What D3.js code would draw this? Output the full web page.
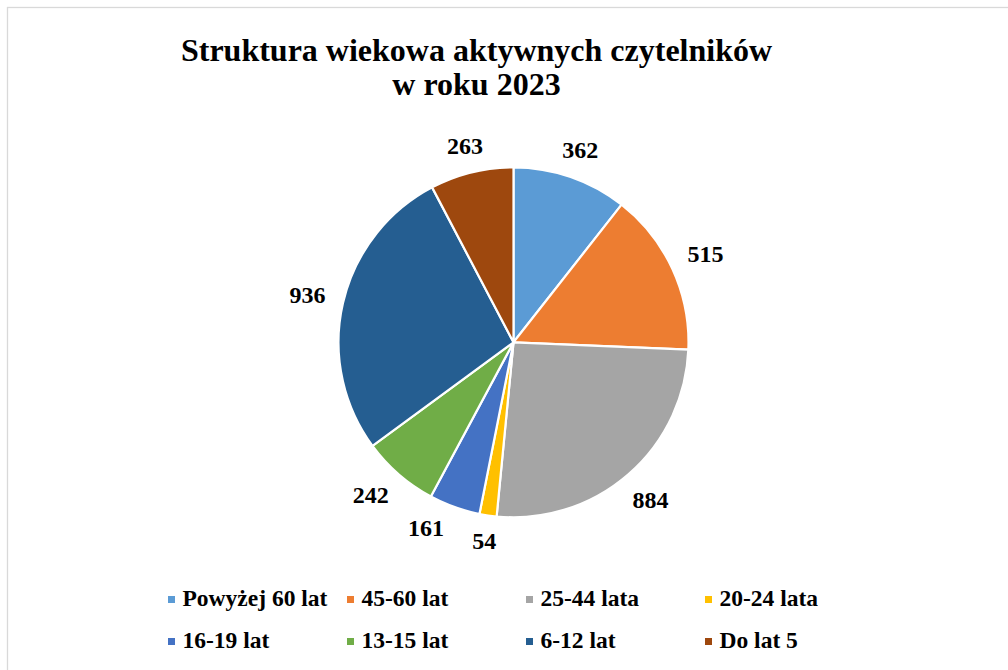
<!DOCTYPE html>
<meta charset="utf-8">
<style>

body {
  margin: 0;
  background: #fff;
}

svg {
  font-family: "Liberation Serif", "Times New Roman", serif;
  font-weight: bold;
  display: block;
}

</style>
<body>
<script src="https://cdn.jsdelivr.net/npm/d3@7"></script>
<script>

var categories = ["Powyżej 60 lat", "45-60 lat", "25-44 lata", "20-24 lata", "16-19 lat", "13-15 lat", "6-12 lat", "Do lat 5"],
    values = [362, 515, 884, 54, 161, 242, 936, 263],
    colors = ["#5b9bd5", "#ed7d31", "#a5a5a5", "#ffc000", "#4472c4", "#70ad47", "#255e91", "#9e480e"],
    titleLines = ["Struktura wiekowa aktywnych czytelników", "w roku 2023"];

</script>
<script>

var width = 1008,
    height = 670,
    cx = 513.5,
    cy = 342.3,
    radius = 175;

var svg = d3.select("body").append("svg")
    .attr("width", width)
    .attr("height", height);

// chart area frame (right and bottom edges fall outside the window)
svg.append("rect")
    .attr("x", 7.5)
    .attr("y", 7.5)
    .attr("width", 1100)
    .attr("height", 700)
    .attr("fill", "#fff")
    .attr("stroke", "#d9d9d9")
    .attr("stroke-width", 1.3);

svg.append("text")
    .attr("x", 476.5)
    .attr("y", 61)
    .attr("text-anchor", "middle")
    .attr("font-size", 32)
  .selectAll("tspan")
  .data(titleLines)
  .enter().append("tspan")
    .attr("x", 476.5)
    .attr("dy", function(d, i) { return i ? 34 : 0; })
    .text(function(d) { return d; });

var color = d3.scaleOrdinal(categories, colors);

var pie = d3.pie().sort(null).value(function(d) { return d.value; });

var arc = d3.arc().innerRadius(0).outerRadius(radius);

var data = pie(categories.map(function(c, i) { return {name: c, value: values[i]}; }));

var g = svg.append("g")
    .attr("transform", "translate(" + cx + "," + cy + ")");

g.selectAll("path")
  .data(data)
  .enter().append("path")
    .attr("fill", function(d) { return color(d.data.name); })
    .attr("stroke", "#fff")
    .attr("stroke-width", 2.2)
    .attr("stroke-linejoin", "round")
    .attr("d", arc);

// outside-end labels: push the label box out along the angle
var gap = 17.5, hh = 6, padX = 28, padY = 16;

var labels = g.selectAll("text.label")
  .data(data)
  .enter().append("text")
    .attr("class", "label")
    .attr("font-size", 24)
    .attr("text-anchor", "middle")
    .attr("dy", "0.34em")
    .text(function(d) { return d.data.value; });

labels.each(function(d) {
  d.hw = this.getComputedTextLength() / 2;
  d.a = (d.startAngle + d.endAngle) / 2;
  place(d);
});

function place(d) {
  var s = Math.sin(d.a), c = -Math.cos(d.a),
      r = radius + gap + Math.abs(d.hw * s) + Math.abs(hh * c);
  d.lx = r * s;
  d.ly = r * c;
}

function overlaps(p, q) {
  return Math.abs(p.lx - q.lx) < p.hw + q.hw + padX &&
      Math.abs(p.ly - q.ly) < 17 + padY;
}

// sweep away from the bottom on each side so crowded labels slide apart
var left = data.filter(function(d) { return d.a > Math.PI; }).sort(function(a, b) { return a.a - b.a; }),
    right = data.filter(function(d) { return d.a <= Math.PI; }).sort(function(a, b) { return b.a - a.a; });

[[left, 1], [right, -1]].forEach(function(side) {
  var list = side[0], dir = side[1];
  for (var i = 1; i < list.length; i++) {
    var k = 0;
    while (overlaps(list[i], list[i - 1]) && k++ < 200) {
      list[i].a += dir * 0.002;
      place(list[i]);
    }
  }
});

labels.attr("transform", function(d) { return "translate(" + d.lx + "," + d.ly + ")"; });

// legend
var legendX = d3.scalePoint().domain(d3.range(4)).range([168, 705]),
    legendY = d3.scalePoint().domain([0, 1]).range([606, 648]);

var item = svg.append("g").selectAll("g")
  .data(categories)
  .enter().append("g")
    .attr("transform", function(d, i) { return "translate(" + legendX(i % 4) + "," + legendY(Math.floor(i / 4)) + ")"; });

item.append("rect")
    .attr("x", 0)
    .attr("y", -10)
    .attr("width", 7)
    .attr("height", 7)
    .attr("fill", function(d) { return color(d); });

item.append("text")
    .attr("x", 14.5)
    .attr("font-size", 23.5)
    .text(function(d) { return d; });

</script>
